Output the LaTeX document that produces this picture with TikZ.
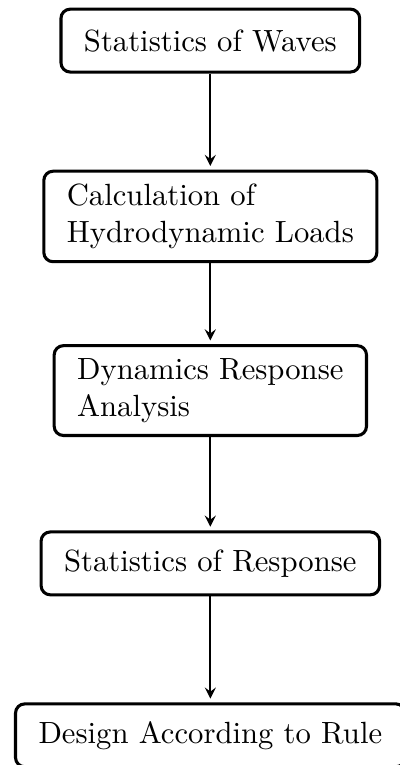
\documentclass[tikz,border=0pt]{standalone}
\usepackage{tikz}
\usetikzlibrary{arrows,positioning}
\tikzset{stage node/.style={rectangle, draw, rounded corners=3pt,
    line width=1pt, align=left, inner xsep=7.5pt, inner ysep=4.2pt,
    minimum height=20.5pt}}
\tikzset{flow edge/.style={draw, semithick, -stealth, shorten >=1.2pt}}

\begin{document}
\begin{tikzpicture}
  \useasboundingbox (-2.41,-8.30) rectangle (2.17,0.465);

  \node [stage node] (waves)    at (0, 0)     {Statistics of Waves};
  \node [stage node] (loads)    at (0,-2.015) {Calculation of\\Hydrodynamic Loads};
  \node [stage node] (dynamics) at (0,-4.01)  {Dynamics Response\\Analysis};
  \node [stage node] (response) at (0,-5.99)  {Statistics of Response};
  \node [stage node] (design)   at (0,-7.96)  {Design According to Rule};

  \draw [flow edge] (waves)    -- (loads);
  \draw [flow edge] (loads)    -- (dynamics);
  \draw [flow edge] (dynamics) -- (response);
  \draw [flow edge] (response) -- (design);
\end{tikzpicture}
\end{document}
